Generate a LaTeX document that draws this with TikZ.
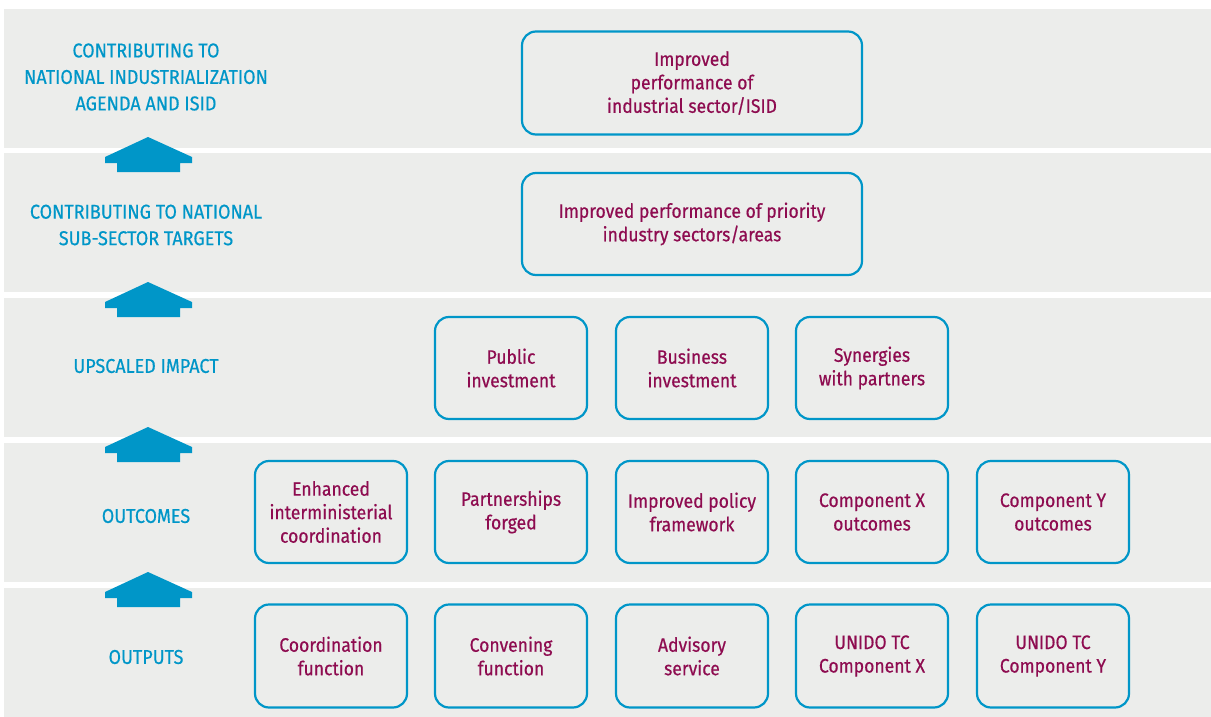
\documentclass[tikz,border=0pt]{standalone}
\usepackage{fontspec}
\setmainfont[FakeStretch=0.9, FakeBold=0.5]{Fira Sans}
\definecolor{bandgray}{HTML}{ECEDEB}
\definecolor{ublue}{HTML}{0096C8}
\definecolor{maroon}{HTML}{8E0C50}
\tikzset{
  band/.style={fill=bandgray, draw=none},
  box/.style={draw=ublue, line width=2.2pt, rounded corners=14pt, fill=bandgray,
    align=center, text=maroon, font=\fontsize{19.5}{23.5}\selectfont, inner sep=0pt},
  lvl/.style={align=center, text=ublue, font=\fontsize{20}{26.5}\selectfont, inner sep=0pt},
  uparrow/.style={fill=ublue, draw=none}
}
\begin{document}
\begin{tikzpicture}[x=1pt,y=-1pt]
\useasboundingbox (0,0) rectangle (1211,717);
\fill[white] (0,0) rectangle (1211,717);
% bands
\fill[band] (4,9) rectangle (1211,148);
\fill[band] (4,153) rectangle (1211,292);
\fill[band] (4,298) rectangle (1211,437);
\fill[band] (4,443) rectangle (1211,582);
\fill[band] (4,588) rectangle (1211,717);
% arrows
\foreach \dy in {0,145,290,435}{
  \fill[uparrow] (148,137+\dy) -- (192,157+\dy) -- (192,163+\dy) -- (180,163+\dy) -- (180,172+\dy)
     -- (117,172+\dy) -- (117,163+\dy) -- (105,163+\dy) -- (105,157+\dy) -- cycle;
}
% level labels
\node[lvl] (l1) at (146,77) {CONTRIBUTING TO\\NATIONAL INDUSTRIALIZATION\\AGENDA AND ISID};
\node[lvl] (l2) at (146,225) {CONTRIBUTING TO NATIONAL\\SUB-SECTOR TARGETS};
\node[lvl] (l3) at (146,366) {UPSCALED IMPACT};
\node[lvl] (l4) at (146,516) {OUTCOMES};
\node[lvl] (l5) at (146,657) {OUTPUTS};
% boxes
\node[box, minimum width=340pt, minimum height=103pt] (b1) at (692,83) {Improved\\performance of\\industrial sector/ISID};
\node[box, minimum width=340pt, minimum height=102pt] (b2) at (692,224) {Improved performance of priority\\industry sectors/areas};
\foreach \n/\x/\t in {a/511/{Public\\investment}, b/692/{Business\\investment}, c/872/{Synergies\\with partners}}{
  \node[box, minimum width=152pt, minimum height=102pt] (u\n) at (\x,368) {\t};
}
\foreach \n/\x/\t in {a/331/{Enhanced\\interministerial\\coordination}, b/511/{Partnerships\\forged}, c/692/{Improved policy\\framework}, d/872/{Component X\\outcomes}, e/1053/{Component Y\\outcomes}}{
  \node[box, minimum width=152pt, minimum height=102pt] (o\n) at (\x,512) {\t};
}
\foreach \n/\x/\t in {a/331/{Coordination\\function}, b/511/{Convening\\function}, c/692/{Advisory\\service}, d/872/{UNIDO TC\\Component X}, e/1053/{UNIDO TC\\Component Y}}{
  \node[box, minimum width=152pt, minimum height=103pt] (p\n) at (\x,656) {\t};
}
\end{tikzpicture}
\end{document}
